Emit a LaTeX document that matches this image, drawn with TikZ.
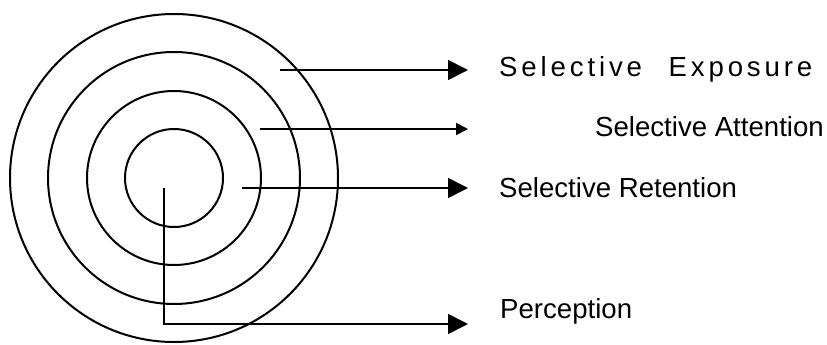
\documentclass[tikz,border=0pt]{standalone}
\usepackage{fontspec}
\setmainfont{Liberation Sans}
\newfontfamily\spacedfont[LetterSpace=14]{Liberation Sans}
\usetikzlibrary{arrows.meta}
\begin{document}
\begin{tikzpicture}[x=1pt,y=-1pt,
  ring/.style={draw=black,line width=2pt},
  pointer/.style={draw=black,line width=1.7pt,-{Triangle[length=20pt,width=20pt]}},
  smallpointer/.style={draw=black,line width=1.7pt,-{Triangle[length=12pt,width=12pt]}},
  label/.style={anchor=base west,inner sep=0pt,font=\fontsize{27.6}{30}\selectfont}]
\useasboundingbox (0,0) rectangle (827,345);
\coordinate (c) at (174,178);
\draw[ring] (c) circle[radius=49];
\draw[ring] (c) circle[radius=87];
\draw[ring] (c) circle[radius=126];
\draw[ring] (c) circle[radius=164];
\node[label,font=\fontsize{27.6}{30}\spacedfont] (exp) at (499,77) {Selective\hspace{15pt} Exposure};
\node[label] (att) at (595,136) {Selective Attention};
\node[label] (ret) at (499,197) {Selective Retention};
\node[label] (per) at (500,318) {Perception};
\coordinate (e0) at (280,70);
\coordinate (e1) at (468,70);
\coordinate (a0) at (260,129);
\coordinate (a1) at (468,129);
\coordinate (r0) at (242,188);
\coordinate (r1) at (468,188);
\coordinate (p0) at (164,188);
\coordinate (pc) at (164,324);
\coordinate (p1) at (468,324);
\draw[pointer] (e0) -- (e1);
\draw[smallpointer] (a0) -- (a1);
\draw[pointer] (r0) -- (r1);
\draw[pointer] (p0) -- (pc) -- (p1);
\end{tikzpicture}
\end{document}
